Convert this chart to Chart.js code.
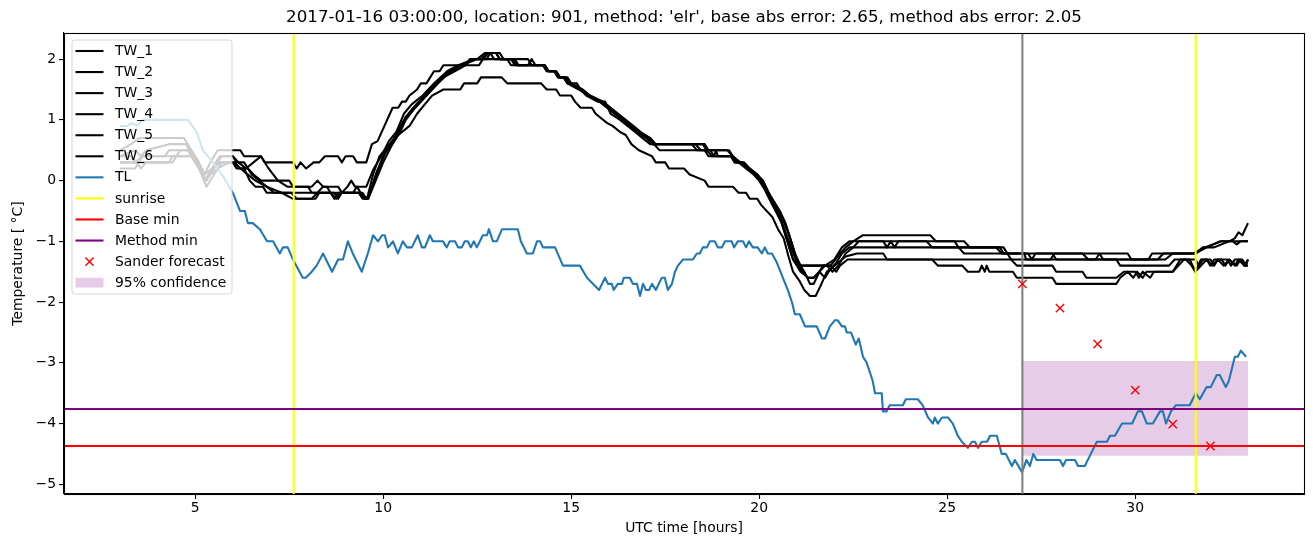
<!DOCTYPE html>
<html lang="en">
<head>
<meta charset="UTF-8">
<title>TW / TL forecast</title>
<script src="https://cdn.jsdelivr.net/npm/chart.js"></script>
<style>
  html, body { margin: 0; padding: 0; background: #fff; }
  #wrap { width: 1313px; height: 547px; }
</style>
</head>
<body>
<div id="wrap"><canvas id="chart" width="1313" height="547"></canvas></div>
<script>
// ---- data ----
const titleText = "2017-01-16 03:00:00, location: 901, method: 'elr', base abs error: 2.65, method abs error: 2.05";
const xTicks = [5, 10, 15, 20, 25, 30];
const yTicks = [-5, -4, -3, -2, -1, 0, 1, 2];
const xRange = [1.51, 34.49];
const yRange = [-5.16, 2.43];

// road surface temperatures, [hour, value]
const tw1 = [[3.0,0.5],[3.3,0.6],[3.5,0.7],[4.7,0.7],[4.9,0.5],[5.1,0.3],[5.25,0.1],[5.4,0.3],[5.6,0.5],[6.2,0.5],[6.3,0.4],[6.75,0.4],[6.85,0.3],[7.6,0.3],[7.7,0.2],[7.8,0.3],[7.95,0.2],[8.15,0.3],[8.3,0.3],[8.45,0.4],[8.8,0.4],[8.9,0.3],[9.0,0.4],[9.2,0.4],[9.3,0.3],[9.55,0.3],[9.7,0.6],[9.85,0.65],[10.25,1.2],[10.4,1.2],[10.5,1.3],[10.6,1.3],[10.7,1.4],[10.9,1.5],[11.0,1.6],[11.15,1.6],[11.25,1.7],[11.35,1.8],[11.5,1.8],[11.6,1.9],[12.2,1.9],[12.3,2.0],[12.6,2.0],[12.75,2.1],[13.1,2.1],[13.2,2.0],[13.45,2.0],[13.55,1.9],[14.25,1.9],[14.35,1.8],[14.55,1.8],[14.65,1.7],[14.8,1.7],[14.9,1.6],[15.15,1.6],[15.25,1.5],[15.4,1.4],[15.7,1.3],[15.9,1.3],[16.05,1.1],[16.3,1.0],[16.5,0.9],[16.7,0.8],[16.9,0.7],[17.1,0.6],[18.3,0.6],[18.45,0.5],[18.7,0.5],[18.8,0.4],[19.25,0.4],[19.35,0.3],[19.55,0.3],[19.7,0.2],[19.9,0.1],[20.1,0.0],[20.25,-0.2],[20.4,-0.4],[20.6,-0.6],[20.8,-0.9],[20.95,-1.2],[21.1,-1.4],[21.9,-1.4],[22.15,-1.2],[22.3,-1.1],[22.5,-1.0],[22.75,-0.9],[24.55,-0.9],[24.7,-1.0],[25.45,-1.0],[25.6,-1.1],[26.4,-1.1],[26.5,-1.2],[27.15,-1.2],[27.25,-1.3],[27.35,-1.2],[27.8,-1.2],[27.9,-1.3],[28.95,-1.3],[29.05,-1.2],[29.8,-1.2],[29.9,-1.3],[30.35,-1.3],[30.45,-1.2],[31.6,-1.2],[31.8,-1.1],[32.1,-1.1],[32.5,-1.0],[32.65,-0.95],[32.75,-0.85],[32.85,-0.9],[33.0,-0.7]];
const tw2 = [[3.0,0.4],[3.4,0.5],[3.55,0.4],[3.7,0.5],[4.3,0.6],[4.75,0.6],[4.95,0.4],[5.15,0.2],[5.25,0.0],[5.45,0.2],[5.65,0.4],[6.0,0.4],[6.15,0.3],[6.35,0.2],[6.55,0.3],[6.75,0.4],[6.95,0.2],[7.2,0.0],[7.45,-0.1],[8.1,-0.1],[8.25,0.0],[8.4,-0.1],[8.8,-0.1],[8.9,-0.2],[9.05,-0.1],[9.15,0.0],[9.25,-0.1],[9.55,-0.1],[9.75,0.2],[9.95,0.4],[10.15,0.65],[10.35,0.8],[10.55,1.1],[10.75,1.25],[11.05,1.4],[11.35,1.6],[11.7,1.8],[12.0,1.9],[12.4,2.0],[12.65,2.0],[12.8,2.1],[13.0,2.1],[13.1,2.0],[13.85,2.0],[13.95,1.9],[14.3,1.9],[14.4,1.8],[14.6,1.8],[14.7,1.7],[14.85,1.7],[14.95,1.6],[15.3,1.5],[15.5,1.4],[15.8,1.3],[16.0,1.2],[16.2,1.1],[16.4,1.0],[16.6,0.9],[16.8,0.8],[17.1,0.7],[17.2,0.6],[18.2,0.6],[18.35,0.5],[18.6,0.5],[18.75,0.4],[19.3,0.4],[19.4,0.3],[19.6,0.3],[19.75,0.2],[19.95,0.1],[20.15,-0.1],[20.35,-0.3],[20.55,-0.5],[20.7,-0.7],[20.85,-1.0],[21.0,-1.3],[21.2,-1.5],[21.35,-1.7],[21.45,-1.7],[21.6,-1.5],[21.75,-1.4],[22.0,-1.3],[22.2,-1.1],[22.4,-1.0],[23.3,-1.0],[23.4,-1.1],[23.5,-1.0],[23.6,-1.1],[23.7,-1.0],[24.45,-1.0],[24.6,-1.1],[26.3,-1.1],[26.45,-1.2],[28.6,-1.2],[28.75,-1.3],[30.8,-1.3],[31.0,-1.2],[31.6,-1.2],[31.9,-1.1],[32.25,-1.0],[33.0,-1.0]];
const tw3 = [[3.0,0.3],[3.5,0.3],[3.6,0.4],[4.2,0.4],[4.3,0.5],[4.8,0.5],[5.0,0.3],[5.2,0.1],[5.3,0.0],[5.5,0.2],[5.7,0.4],[6.0,0.4],[6.1,0.3],[6.3,0.3],[6.5,0.1],[6.7,0.0],[6.9,-0.1],[7.1,-0.2],[8.6,-0.2],[8.75,-0.3],[8.85,-0.2],[9.4,-0.2],[9.5,-0.3],[9.6,-0.3],[9.8,0.1],[10.0,0.4],[10.2,0.6],[10.4,0.8],[10.6,1.05],[10.8,1.2],[11.1,1.4],[11.4,1.6],[11.75,1.8],[12.05,1.9],[12.45,2.0],[12.75,2.0],[12.85,2.1],[12.95,2.0],[13.4,2.0],[13.5,1.9],[14.25,1.9],[14.35,1.8],[14.55,1.8],[14.65,1.7],[14.8,1.7],[14.9,1.6],[15.2,1.5],[15.45,1.4],[15.75,1.3],[15.95,1.2],[16.15,1.1],[16.35,1.0],[16.55,0.9],[16.75,0.8],[17.0,0.7],[17.15,0.6],[18.55,0.6],[18.65,0.5],[19.2,0.5],[19.3,0.4],[19.5,0.3],[19.7,0.2],[19.9,0.1],[20.05,0.0],[20.2,-0.2],[20.4,-0.45],[20.6,-0.7],[20.75,-1.0],[20.9,-1.3],[21.1,-1.5],[21.3,-1.6],[21.45,-1.6],[21.6,-1.5],[21.7,-1.4],[21.8,-1.4],[21.95,-1.5],[22.1,-1.4],[22.3,-1.2],[22.5,-1.1],[22.65,-1.0],[25.2,-1.0],[25.3,-1.1],[26.5,-1.1],[26.6,-1.2],[27.05,-1.2],[27.1,-1.3],[27.75,-1.3],[27.85,-1.2],[29.05,-1.2],[29.15,-1.3],[30.6,-1.3],[30.75,-1.2],[31.55,-1.2],[31.85,-1.1],[32.3,-1.0],[32.6,-1.0],[32.7,-1.05],[32.8,-1.0],[33.0,-1.0]];
const tw4 = [[3.0,0.2],[3.4,0.2],[3.5,0.3],[4.3,0.3],[4.4,0.4],[4.9,0.4],[5.1,0.2],[5.3,-0.1],[5.5,0.1],[5.7,0.3],[6.0,0.3],[6.2,0.2],[6.4,0.1],[6.6,0.0],[6.9,-0.1],[7.3,-0.2],[7.6,-0.3],[8.2,-0.3],[8.3,-0.2],[8.6,-0.2],[8.7,-0.3],[8.8,-0.2],[9.35,-0.2],[9.45,-0.3],[9.57,-0.3],[9.73,0.1],[9.9,0.4],[10.1,0.55],[10.3,0.7],[10.5,0.8],[10.7,0.9],[10.9,1.1],[11.1,1.25],[11.3,1.4],[11.6,1.5],[12.05,1.5],[12.15,1.6],[12.5,1.6],[12.6,1.7],[13.15,1.7],[13.3,1.6],[14.2,1.6],[14.35,1.5],[14.6,1.5],[14.7,1.4],[15.0,1.4],[15.1,1.3],[15.25,1.2],[15.55,1.2],[15.65,1.1],[15.95,0.95],[16.1,0.9],[16.3,0.8],[16.45,0.75],[16.6,0.6],[16.8,0.5],[17.15,0.4],[17.25,0.3],[17.5,0.3],[17.6,0.2],[18.0,0.2],[18.15,0.1],[18.55,0.0],[18.65,-0.1],[19.3,-0.1],[19.45,-0.2],[19.65,-0.2],[19.75,-0.3],[19.95,-0.3],[20.05,-0.4],[20.2,-0.5],[20.35,-0.6],[20.5,-0.8],[20.65,-0.95],[20.78,-1.25],[20.9,-1.5],[21.08,-1.66],[21.2,-1.8],[21.35,-1.9],[21.5,-1.9],[21.62,-1.75],[21.8,-1.5],[22.0,-1.4],[22.3,-1.25],[22.6,-1.2],[23.3,-1.2],[23.4,-1.3],[24.6,-1.3],[24.75,-1.4],[25.4,-1.4],[25.55,-1.5],[25.85,-1.5],[25.92,-1.4],[26.0,-1.5],[26.05,-1.4],[26.12,-1.5],[26.75,-1.5],[26.85,-1.6],[27.8,-1.6],[27.9,-1.7],[29.5,-1.7],[29.6,-1.6],[29.8,-1.5],[29.95,-1.6],[30.05,-1.5],[30.2,-1.6],[30.3,-1.5],[31.0,-1.5],[31.2,-1.3],[31.45,-1.3],[31.6,-1.5],[31.75,-1.3],[31.9,-1.3],[32.0,-1.4],[32.1,-1.3],[32.3,-1.3],[32.4,-1.4],[32.5,-1.3],[32.65,-1.4],[32.75,-1.3],[32.9,-1.4],[33.0,-1.3]];
const tw5 = [[3.0,0.4],[3.3,0.4],[3.4,0.3],[3.6,0.4],[4.5,0.4],[4.6,0.5],[4.85,0.5],[5.05,0.3],[5.25,0.1],[5.45,0.2],[5.65,0.3],[6.0,0.3],[6.1,0.2],[6.3,0.2],[6.45,0.0],[6.6,-0.1],[6.8,-0.1],[6.9,-0.2],[7.55,-0.2],[7.7,-0.3],[8.1,-0.3],[8.25,-0.2],[8.4,-0.1],[8.5,-0.1],[8.6,-0.2],[9.2,-0.2],[9.3,-0.1],[9.4,-0.2],[9.5,-0.3],[9.6,-0.3],[9.8,0.0],[10.0,0.3],[10.2,0.55],[10.45,0.8],[10.6,1.0],[10.85,1.2],[11.15,1.4],[11.45,1.6],[11.8,1.8],[12.1,1.9],[12.5,2.0],[12.7,2.1],[13.0,2.1],[13.1,2.0],[13.5,2.0],[13.6,1.9],[14.3,1.9],[14.4,1.8],[14.6,1.8],[14.7,1.7],[14.85,1.7],[14.95,1.6],[15.25,1.5],[15.45,1.4],[15.8,1.3],[16.0,1.2],[16.2,1.1],[16.4,1.0],[16.6,0.9],[16.8,0.8],[17.05,0.7],[17.2,0.6],[17.35,0.5],[18.55,0.5],[18.65,0.4],[18.8,0.4],[18.85,0.5],[18.9,0.4],[19.25,0.4],[19.35,0.3],[19.55,0.3],[19.75,0.2],[19.95,0.1],[20.1,0.0],[20.25,-0.2],[20.45,-0.5],[20.6,-0.7],[20.75,-1.0],[20.9,-1.3],[21.05,-1.4],[21.9,-1.4],[22.05,-1.5],[22.15,-1.4],[22.35,-1.3],[26.7,-1.3],[26.85,-1.4],[27.8,-1.4],[27.9,-1.5],[28.6,-1.5],[28.7,-1.6],[29.5,-1.6],[29.7,-1.5],[30.0,-1.5],[30.1,-1.6],[30.2,-1.5],[30.4,-1.6],[30.5,-1.5],[31.0,-1.5],[31.15,-1.4],[31.3,-1.3],[31.6,-1.3],[31.7,-1.4],[31.8,-1.3],[32.0,-1.3],[32.1,-1.4],[32.2,-1.3],[32.45,-1.3],[32.55,-1.4],[32.65,-1.3],[32.85,-1.3],[32.95,-1.4],[33.0,-1.3]];
const tw6 = [[3.0,0.3],[3.45,0.3],[3.55,0.2],[3.7,0.3],[4.4,0.3],[4.5,0.4],[4.9,0.4],[5.1,0.2],[5.25,0.0],[5.4,0.1],[5.6,0.2],[5.9,0.3],[6.05,0.3],[6.2,0.2],[6.4,0.2],[6.55,0.1],[6.75,0.0],[7.5,0.0],[7.6,-0.1],[8.0,-0.1],[8.1,-0.2],[8.7,-0.2],[8.8,-0.3],[8.9,-0.2],[9.45,-0.2],[9.55,-0.3],[9.65,-0.2],[9.85,0.15],[10.05,0.45],[10.3,0.7],[10.5,0.95],[10.7,1.1],[11.0,1.3],[11.3,1.5],[11.6,1.7],[11.9,1.8],[12.2,1.9],[12.55,1.9],[12.65,2.0],[13.3,2.0],[13.4,1.9],[13.85,1.9],[13.95,2.0],[14.05,1.9],[14.3,1.9],[14.4,1.8],[14.6,1.8],[14.7,1.7],[14.9,1.7],[15.0,1.6],[15.3,1.5],[15.5,1.4],[15.85,1.3],[16.05,1.2],[16.25,1.1],[16.45,1.0],[16.65,0.9],[16.85,0.8],[17.1,0.7],[17.25,0.6],[18.5,0.6],[18.6,0.5],[19.15,0.5],[19.3,0.4],[19.45,0.3],[19.65,0.2],[19.85,0.1],[20.0,0.0],[20.15,-0.15],[20.35,-0.4],[20.55,-0.6],[20.7,-0.85],[20.85,-1.1],[21.0,-1.35],[21.15,-1.5],[21.3,-1.6],[21.45,-1.6],[21.6,-1.5],[21.75,-1.6],[21.85,-1.5],[22.05,-1.35],[22.2,-1.2],[22.4,-1.1],[25.3,-1.1],[25.45,-1.2],[26.6,-1.2],[26.7,-1.3],[29.5,-1.3],[29.6,-1.4],[30.9,-1.4],[31.05,-1.3],[31.35,-1.3],[31.5,-1.4],[31.6,-1.5],[31.75,-1.4],[31.9,-1.3],[32.05,-1.4],[32.2,-1.3],[32.35,-1.4],[32.5,-1.3],[32.7,-1.4],[32.8,-1.3],[32.9,-1.4],[33.0,-1.4]];

// air temperature TL, [hour, value]
const tl = [[3.0,0.9],[3.2,0.9],[3.3,0.95],[3.45,0.9],[3.6,1.0],[4.81,1.0],[5.04,0.8],[5.2,0.5],[5.47,0.3],[5.74,0.07],[5.92,-0.12],[6.0,-0.2],[6.19,-0.5],[6.32,-0.5],[6.4,-0.7],[6.53,-0.7],[6.72,-0.8],[6.91,-1.0],[7.07,-1.0],[7.25,-1.2],[7.33,-1.1],[7.46,-1.1],[7.6,-1.3],[7.86,-1.6],[7.94,-1.6],[8.1,-1.5],[8.23,-1.4],[8.4,-1.2],[8.64,-1.5],[8.8,-1.3],[8.93,-1.3],[9.06,-1.0],[9.19,-1.2],[9.43,-1.5],[9.59,-1.2],[9.73,-0.9],[9.86,-1.0],[9.97,-0.9],[10.04,-0.9],[10.13,-1.1],[10.26,-1.0],[10.39,-1.2],[10.52,-1.0],[10.63,-1.1],[10.76,-1.1],[10.92,-0.9],[11.03,-1.1],[11.11,-1.1],[11.24,-0.9],[11.32,-1.0],[11.59,-1.0],[11.69,-1.1],[11.77,-1.0],[11.91,-1.0],[11.99,-1.1],[12.09,-1.1],[12.17,-1.0],[12.25,-1.0],[12.33,-1.1],[12.41,-1.0],[12.49,-1.1],[12.65,-0.9],[12.76,-0.9],[12.81,-0.8],[12.92,-1.0],[13.02,-1.0],[13.16,-0.8],[13.58,-0.8],[13.66,-1.0],[13.82,-1.2],[13.98,-1.2],[14.09,-1.0],[14.17,-1.0],[14.25,-1.1],[14.57,-1.1],[14.78,-1.4],[15.23,-1.4],[15.42,-1.6],[15.74,-1.8],[15.9,-1.6],[15.98,-1.7],[16.08,-1.7],[16.13,-1.8],[16.24,-1.7],[16.35,-1.7],[16.4,-1.6],[16.56,-1.6],[16.64,-1.7],[16.75,-1.7],[16.83,-1.9],[16.91,-1.7],[16.99,-1.8],[17.07,-1.8],[17.15,-1.7],[17.25,-1.8],[17.41,-1.6],[17.49,-1.6],[17.57,-1.8],[17.68,-1.7],[17.76,-1.5],[17.84,-1.4],[17.97,-1.3],[18.24,-1.3],[18.34,-1.2],[18.42,-1.2],[18.5,-1.1],[18.61,-1.1],[18.69,-1.0],[18.82,-1.0],[18.9,-1.1],[19.01,-1.1],[19.09,-1.0],[19.27,-1.0],[19.33,-1.1],[19.43,-1.0],[19.57,-1.0],[19.65,-1.1],[19.73,-1.0],[19.83,-1.1],[19.96,-1.1],[20.07,-1.2],[20.15,-1.1],[20.23,-1.2],[20.34,-1.2],[20.47,-1.35],[20.63,-1.6],[20.76,-1.8],[20.87,-2.0],[20.95,-2.2],[21.08,-2.2],[21.22,-2.4],[21.53,-2.4],[21.67,-2.6],[21.75,-2.6],[21.88,-2.4],[22.01,-2.3],[22.09,-2.3],[22.2,-2.4],[22.28,-2.4],[22.33,-2.5],[22.44,-2.5],[22.57,-2.7],[22.65,-2.6],[22.76,-2.9],[22.86,-3.0],[23.02,-3.3],[23.08,-3.5],[23.26,-3.5],[23.29,-3.8],[23.39,-3.8],[23.47,-3.7],[23.82,-3.7],[23.9,-3.6],[24.22,-3.6],[24.35,-3.7],[24.49,-3.9],[24.62,-4.0],[24.67,-3.9],[24.75,-4.0],[24.86,-3.9],[25.02,-3.9],[25.15,-4.0],[25.28,-4.2],[25.39,-4.3],[25.55,-4.4],[25.66,-4.3],[25.74,-4.3],[25.82,-4.4],[25.92,-4.3],[26.06,-4.3],[26.14,-4.2],[26.32,-4.2],[26.45,-4.5],[26.56,-4.5],[26.72,-4.7],[26.8,-4.6],[26.99,-4.8],[27.11,-4.6],[27.2,-4.7],[27.29,-4.5],[27.38,-4.6],[28.0,-4.6],[28.08,-4.7],[28.16,-4.6],[28.4,-4.6],[28.48,-4.7],[28.66,-4.7],[28.82,-4.5],[28.98,-4.3],[29.25,-4.3],[29.33,-4.2],[29.46,-4.2],[29.65,-4.0],[29.92,-4.0],[30.07,-3.8],[30.18,-3.8],[30.31,-4.0],[30.47,-4.0],[30.66,-3.8],[30.74,-3.8],[30.82,-4.0],[30.95,-3.8],[31.08,-3.7],[31.45,-3.7],[31.61,-3.5],[31.72,-3.6],[31.9,-3.4],[32.01,-3.4],[32.17,-3.2],[32.25,-3.2],[32.41,-3.4],[32.49,-3.3],[32.65,-2.9],[32.73,-2.9],[32.81,-2.8],[32.95,-2.9]];

const sunriseHours = [7.62, 31.61];
const forecastHour = 27;
const baseMin = -4.37;
const methodMin = -3.76;
const sanderHours = [27, 28, 29, 30, 31, 32];
const sanderValues = [-1.70, -2.10, -2.69, -3.45, -4.01, -4.37];
const confHours = [27, 33];
const confLow = -4.53;
const confHigh = -2.97;

// ---- helpers ----
const pts = arr => arr.map(([x, y]) => ({ x, y }));
const vline = x => [{ x, y: yRange[0] }, { x, y: yRange[1] }];
const hline = y => [{ x: xRange[0], y }, { x: xRange[1], y }];
const minus = v => (v < 0 ? '\u2212' + Math.abs(v) : String(v));

const FONT = 'DejaVu Sans';
const LW = 2.08; // 1.5pt at 100 dpi
Chart.defaults.font.family = FONT;
Chart.defaults.color = '#000';

const tws = [tw1, tw2, tw3, tw4, tw5, tw6];
const datasets = [];

datasets.push({
  label: '95% confidence',
  data: confHours.map(x => ({ x, y: confHigh })),
  borderWidth: 0,
  backgroundColor: 'rgba(128,0,128,0.2)',
  fill: { value: confLow },
  order: 100
});
tws.forEach((s, i) => datasets.push({
  label: 'TW_' + (i + 1), data: pts(s), borderColor: '#000', borderWidth: LW, order: 60 - i
}));
datasets.push({ label: 'TL', data: pts(tl), borderColor: '#1f77b4', borderWidth: LW, order: 40 });
sunriseHours.forEach(h => datasets.push({ label: 'sunrise', data: vline(h), borderColor: '#ffff00', borderWidth: LW, order: 30 }));
datasets.push({ label: 'now', data: vline(forecastHour), borderColor: '#808080', borderWidth: LW, order: 31 });
datasets.push({ label: 'Base min', data: hline(baseMin), borderColor: '#ff0000', borderWidth: LW, order: 20 });
datasets.push({ label: 'Method min', data: hline(methodMin), borderColor: '#800080', borderWidth: LW, order: 21 });
datasets.push({
  label: 'Sander forecast',
  data: sanderHours.map((x, i) => ({ x, y: sanderValues[i] })),
  showLine: false,
  pointStyle: 'crossRot',
  pointRadius: 5.9,
  pointBorderColor: '#ff0000',
  pointBorderWidth: 1.4,
  order: 10
});

// matplotlib-like legend, title and frame
const legendItems = [
  { text: 'TW_1', kind: 'line', color: '#000' },
  { text: 'TW_2', kind: 'line', color: '#000' },
  { text: 'TW_3', kind: 'line', color: '#000' },
  { text: 'TW_4', kind: 'line', color: '#000' },
  { text: 'TW_5', kind: 'line', color: '#000' },
  { text: 'TW_6', kind: 'line', color: '#000' },
  { text: 'TL', kind: 'line', color: '#1f77b4' },
  { text: 'sunrise', kind: 'line', color: '#ffff00' },
  { text: 'Base min', kind: 'line', color: '#ff0000' },
  { text: 'Method min', kind: 'line', color: '#800080' },
  { text: 'Sander forecast', kind: 'x', color: '#ff0000' },
  { text: '95% confidence', kind: 'patch', color: 'rgba(128,0,128,0.2)' }
];

const mplDecor = {
  id: 'mplDecor',
  afterDatasetsDraw(chart) {
    const ctx = chart.ctx, a = chart.chartArea;
    const L = a.left + 8, T = a.top + 7, W = 160, H = 254, r = 3;
    ctx.save();
    ctx.beginPath();
    ctx.moveTo(L + r, T);
    ctx.arcTo(L + W, T, L + W, T + H, r);
    ctx.arcTo(L + W, T + H, L, T + H, r);
    ctx.arcTo(L, T + H, L, T, r);
    ctx.arcTo(L, T, L + W, T, r);
    ctx.closePath();
    ctx.fillStyle = 'rgba(255,255,255,0.8)';
    ctx.fill();
    ctx.strokeStyle = 'rgba(204,204,204,0.8)';
    ctx.lineWidth = 1;
    ctx.stroke();

    ctx.font = '13.9px "' + FONT + '"';
    ctx.textBaseline = 'middle';
    ctx.textAlign = 'left';
    legendItems.forEach((it, i) => {
      const y = T + 11 + i * 21.06;
      const x0 = L + 3.5, x1 = L + 31.5, xc = (x0 + x1) / 2;
      if (it.kind === 'line') {
        ctx.strokeStyle = it.color;
        ctx.lineWidth = LW;
        ctx.beginPath(); ctx.moveTo(x0, y); ctx.lineTo(x1, y); ctx.stroke();
      } else if (it.kind === 'x') {
        const d = 4.1;
        ctx.strokeStyle = it.color;
        ctx.lineWidth = 1.4;
        ctx.beginPath();
        ctx.moveTo(xc - d, y - d); ctx.lineTo(xc + d, y + d);
        ctx.moveTo(xc - d, y + d); ctx.lineTo(xc + d, y - d);
        ctx.stroke();
      } else {
        ctx.fillStyle = it.color;
        ctx.fillRect(x0, y - 4.9, x1 - x0, 9.8);
      }
      ctx.fillStyle = '#000';
      ctx.fillText(it.text, L + 43, y + 0.5);
    });
    ctx.restore();
  },
  afterDraw(chart) {
    const ctx = chart.ctx, a = chart.chartArea;
    ctx.save();
    ctx.strokeStyle = '#000';
    ctx.lineWidth = 1.1;
    ctx.strokeRect(Math.round(a.left) + 0.5, Math.round(a.top) + 0.5,
      Math.round(a.right - a.left), Math.round(a.bottom - a.top));
    ctx.fillStyle = '#000';
    ctx.font = '16.7px "' + FONT + '"';
    ctx.textAlign = 'center';
    ctx.textBaseline = 'middle';
    ctx.fillText(titleText, (a.left + a.right) / 2, a.top - 15);
    ctx.restore();
  }
};

const tickFont = { family: FONT, size: 13.9 };

new Chart(document.getElementById('chart').getContext('2d'), {
  type: 'line',
  data: { datasets },
  options: {
    responsive: false,
    animation: false,
    devicePixelRatio: 1,
    layout: { padding: { top: 33, right: 9, left: 0, bottom: 0 } },
    elements: {
      point: { radius: 0 },
      line: { tension: 0, fill: false, borderJoinStyle: 'round' }
    },
    plugins: {
      legend: { display: false },
      tooltip: { enabled: false },
      title: { display: false }
    },
    scales: {
      x: {
        type: 'linear',
        min: xRange[0],
        max: xRange[1],
        afterFit(s) { s.height = 53; },
        afterBuildTicks(s) { s.ticks = xTicks.map(v => ({ value: v })); },
        ticks: { color: '#000', font: tickFont, padding: 1, maxRotation: 0, autoSkip: false, callback: minus },
        grid: { drawOnChartArea: false, drawTicks: true, tickLength: 5, color: '#000', lineWidth: 1.1 },
        border: { display: true, color: '#000', width: 1.1 },
        title: { display: true, text: 'UTC time [hours]', color: '#000', font: tickFont, padding: { top: 0, bottom: 10 } }
      },
      y: {
        type: 'linear',
        min: yRange[0],
        max: yRange[1],
        afterFit(s) { s.width = 64; },
        afterBuildTicks(s) { s.ticks = yTicks.map(v => ({ value: v })); },
        ticks: { color: '#000', font: tickFont, padding: 3, autoSkip: false, callback: minus },
        grid: { drawOnChartArea: false, drawTicks: true, tickLength: 5, color: '#000', lineWidth: 1.1 },
        border: { display: true, color: '#000', width: 1.1 },
        title: { display: true, text: 'Temperature [ °C]', color: '#000', font: tickFont, padding: { top: 10, bottom: 0 } }
      }
    }
  },
  plugins: [mplDecor]
});
</script>
</body>
</html>
